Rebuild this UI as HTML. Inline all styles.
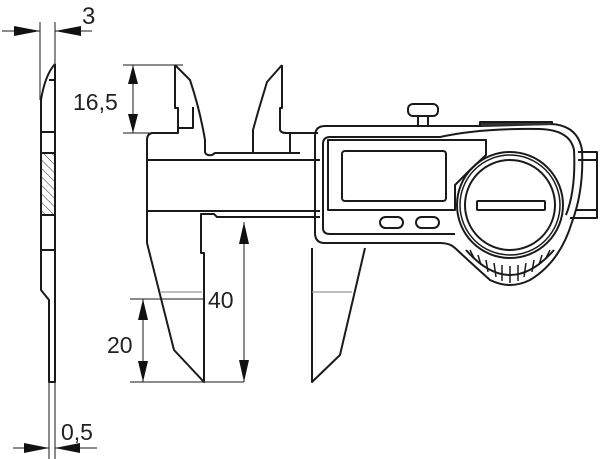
<!DOCTYPE html>
<html><head><style>body{margin:0;background:#fff}svg{display:block}text{font-family:"Liberation Sans",sans-serif;fill:#222}</style></head>
<body>
<svg width="600" height="459" viewBox="0 0 600 459" xmlns="http://www.w3.org/2000/svg">
<defs>
<pattern id="h" width="6" height="6" patternUnits="userSpaceOnUse" patternTransform="rotate(-45)"><line x1="0" y1="0" x2="0" y2="6" stroke="#333" stroke-width="1"/></pattern>
</defs>
<g fill="none" stroke="#1a1a1a" stroke-width="1">
<line x1="40" y1="22" x2="40" y2="100"/>
<line x1="55" y1="22" x2="55" y2="65"/>
<line x1="2" y1="31" x2="40" y2="31"/>
<line x1="92" y1="31" x2="55" y2="31"/>
<line x1="49" y1="382" x2="49" y2="459"/>
<line x1="55" y1="382" x2="55" y2="459"/>
<line x1="13" y1="448" x2="49" y2="448"/>
<line x1="97" y1="448" x2="55" y2="448"/>
<line x1="123" y1="65" x2="183" y2="65"/>
<line x1="123" y1="133" x2="175" y2="133"/>
<line x1="133" y1="65" x2="133" y2="133"/>
<line x1="130" y1="382" x2="244" y2="382"/>
<line x1="130" y1="299" x2="203" y2="299"/>
<line x1="244" y1="222" x2="244" y2="382"/>
<line x1="143" y1="299" x2="143" y2="382"/>
</g>
<g fill="#111">
<polygon points="14,26 40,31 14,36"/>
<polygon points="81,26 55,31 81,36"/>
<polygon points="24,443 49,448 24,453"/>
<polygon points="80,443 55,448 80,453"/>
<polygon points="128,84 133,65 138,84"/>
<polygon points="128,114 133,133 138,114"/>
<polygon points="239,244 244,222 249,244"/>
<polygon points="239,360 244,382 249,360"/>
<polygon points="138,320 143,299 148,320"/>
<polygon points="138,361 143,382 148,361"/>
</g>
<g fill="none" stroke="#1a1a1a" stroke-width="2" stroke-linejoin="round">
<rect x="42" y="153" width="13" height="62" fill="url(#h)" stroke="none"/>
<path d="M55,64 L55,382 L49,382 L49,300 L41,290 L41,100 Q45,75 55,64"/>
<path d="M49,80 L55,80"/>
<line x1="41" y1="132" x2="55" y2="132"/>
<line x1="41" y1="153" x2="55" y2="153"/>
<line x1="41" y1="215" x2="55" y2="215"/>
<line x1="41" y1="250" x2="55" y2="250"/>
<path d="M175,65 L190,80 Q200,110 205,140 L205,152 Q206,156 212,155 L215,153 L300,153"/>
<path d="M175,65 L175,108 L178,108 L178,128 L193,128 L193,107"/>
<path d="M178,128 L178,133 L152,133 Q147,134 147,140 L147,243 L174,350 L204,382 L204,253 L201,253 L201,214 L214,214 L217,217 L320,217"/>
<line x1="147" y1="160" x2="320" y2="160"/>
<line x1="147" y1="211" x2="320" y2="211"/>
<path d="M282,65 L267,82 L258,112 L253,130 L253,153"/>
<path d="M282,65 L282,108 L280,108 L280,130 Q281,133 286,133 L318,133"/>
<line x1="290" y1="133" x2="290" y2="153"/>
<path d="M312,248 L312,382 L340,355 L365,248"/>
</g>
<g stroke="#999" stroke-width="1.2">
<line x1="160" y1="292" x2="202" y2="292"/>
<line x1="312" y1="292" x2="352" y2="292"/>
</g>
<g fill="none" stroke="#1a1a1a" stroke-width="2" stroke-linejoin="round">
<path d="M578,152 L597,152 L597,218 L570,218"/>
<line x1="578" y1="160" x2="597" y2="160"/>
<line x1="575" y1="210" x2="597" y2="210"/>
<path d="M325,126 L480,126 L552,124 Q578,126 582,150 Q584,190 572,222 Q560,262 530,280 Q510,290 490,280 Q470,262 455,248 Q450,243 440,243 L325,243 Q315,243 315,233 L315,136 Q315,126 325,126 Z"/>
<path d="M330,137 L440,137 Q480,128 540,129 Q570,130 574,150 Q576,190 566,215"/>
<path d="M330,137 Q323,137 323,144 L323,228 Q323,234 330,234 L455,234"/>
<path d="M328,140 L486,140 L486,155 L470,170 L455,185 L455,210 L328,210 Z"/>
<rect x="342" y="151" width="104" height="50" rx="3"/>
<rect x="380" y="217" width="23" height="11" rx="5.5"/>
<rect x="416" y="217" width="23" height="11" rx="5.5"/>
<rect x="408" y="104" width="30" height="12" rx="5"/>
<path d="M418,116 L418,126 M428,116 L428,126"/>
<path d="M480,126 L480,122 L552,122 L552,125" fill="#333"/>
<circle cx="510" cy="205" r="53"/>
<circle cx="510" cy="205" r="50" stroke-width="1.5"/>
<circle cx="510" cy="205" r="45"/>
<rect x="477" y="201" width="68" height="9" rx="1"/>
<path d="M466,250 Q510,300 554,250" />
<g stroke-width="1.5">
<line x1="470" y1="250" x2="474" y2="258"/><line x1="478" y1="255" x2="481" y2="265"/>
<line x1="486" y1="260" x2="488" y2="272"/><line x1="494" y1="263" x2="496" y2="277"/>
<line x1="502" y1="265" x2="502" y2="281"/><line x1="510" y1="266" x2="510" y2="283"/>
<line x1="518" y1="265" x2="518" y2="281"/><line x1="526" y1="263" x2="524" y2="277"/>
<line x1="534" y1="260" x2="532" y2="272"/><line x1="542" y1="255" x2="539" y2="265"/>
<line x1="550" y1="250" x2="546" y2="258"/>
</g>
</g>
<text x="82" y="24" font-size="24">3</text>
<text x="61" y="440" font-size="23">0,5</text>
<text x="73" y="110" font-size="23">16,5</text>
<text x="208" y="308" font-size="23">40</text>
<text x="107" y="353" font-size="23">20</text>
</svg>
</body></html>
